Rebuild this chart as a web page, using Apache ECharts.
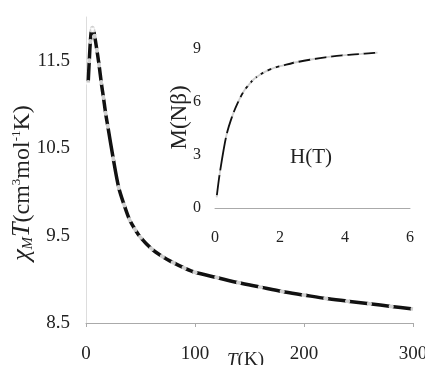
<!DOCTYPE html>
<html>
<head>
<meta charset="utf-8">
<script src="https://cdn.jsdelivr.net/npm/echarts@6/dist/echarts.min.js"></script>
<style>
  html, body { margin: 0; padding: 0; background: #fff; }
  #container { width: 425px; height: 365px; }
</style>
</head>
<body>
<div id="container"></div>
<script>
// chi_M T vs T (main plot)
var tempK = [2, 3, 4, 5, 6, 7, 8, 10, 12, 14, 16, 18, 20, 25, 30, 35, 40, 45, 50, 60, 70, 80, 90, 100,
             120, 140, 160, 180, 200, 220, 240, 260, 280, 300];
var chiT = [11.25, 11.5, 11.72, 11.85, 11.88, 11.85, 11.78, 11.62, 11.45, 11.25, 11.08, 10.9, 10.75, 10.38,
            10.05, 9.85, 9.68, 9.57, 9.48, 9.35, 9.26, 9.19, 9.13, 9.08, 9.02, 8.96, 8.91, 8.86, 8.82, 8.78,
            8.75, 8.72, 8.69, 8.66];

// M vs H (inset)
var fieldT = [0.05, 0.15, 0.35, 0.55, 0.75, 0.9, 1.05, 1.2, 1.35, 1.55, 1.8, 2.05, 2.5, 3.0, 3.5, 4.0, 4.5, 5.0];
var magM = [0.6, 2.0, 4.1, 5.3, 6.15, 6.65, 7.0, 7.3, 7.5, 7.72, 7.92, 8.05, 8.25, 8.42, 8.55, 8.65, 8.72, 8.8];

var mainTicks = [8.5, 9.5, 10.5, 11.5];

function pairs(xs, ys){
    let out = [];
    for (let i = 0; i < xs.length; i++){
        out.push([xs[i], ys[i]]);
    }
    return out;
}

var serif = 'Liberation Serif';
var txt = '#222';

function init(){
    let myChart = echarts.init(document.getElementById("container"));
    let option = {
        backgroundColor: '#fff',
        animation: false,
        grid: [
            {left: 86, top: 17, width: 327, height: 306, outerBoundsMode: 'none', containLabel: false},
            {left: 215, top: 49, width: 195, height: 159, outerBoundsMode: 'none', containLabel: false}
        ],
        xAxis: [{
            gridIndex: 0, type: 'value', min: 0, max: 300, interval: 100,
            splitLine: {show: false},
            axisLine: {lineStyle: {color: '#aaa', width: 1}},
            axisTick: {show: true, length: 4, lineStyle: {color: '#aaa'}},
            axisLabel: {fontFamily: serif, fontSize: 19, color: txt, margin: 22},
            name: '{i|T}(K)',
            nameLocation: 'middle',
            nameGap: 28,
            nameMoveOverlap: false,
            nameTextStyle: {
                fontFamily: serif, fontSize: 19, color: txt, padding: [0, 8, 0, 0],
                rich: {i: {fontFamily: serif, fontSize: 19, fontStyle: 'italic', color: txt}}
            }
        }, {
            gridIndex: 1, type: 'value', min: 0, max: 6, interval: 2,
            splitLine: {show: false},
            axisLine: {lineStyle: {color: '#aaa', width: 1}},
            axisTick: {show: false},
            axisLabel: {fontFamily: serif, fontSize: 16, color: txt, margin: 22}
        }],
        yAxis: [{
            gridIndex: 0, type: 'value', min: 8.5, max: 12, interval: 0.5,
            splitLine: {show: false},
            axisLine: {show: true, lineStyle: {color: '#ddd', width: 1}},
            axisTick: {show: false},
            axisLabel: {
                fontFamily: serif, fontSize: 19, color: txt, margin: 16,
                formatter: function (v){
                    return mainTicks.indexOf(Math.round(v * 10) / 10) >= 0 ? v.toFixed(1) : '';
                }
            },
            name: '{i|χ}{sub|M}{i|T}{n|(cm}{sup|3}{n|mol}{sup|-1}{n|K)}',
            nameLocation: 'middle',
            nameRotate: 90,
            nameGap: 50,
            nameMoveOverlap: false,
            nameTextStyle: {
                fontFamily: serif, fontSize: 24, color: txt, padding: [0, 26, 0, 0],
                rich: {
                    i: {fontFamily: serif, fontSize: 26, fontStyle: 'italic', color: txt},
                    n: {fontFamily: serif, fontSize: 24, color: txt},
                    sub: {fontFamily: serif, fontSize: 15, fontStyle: 'italic', color: txt, padding: [12, 0, 0, 0]},
                    sup: {fontFamily: serif, fontSize: 13, color: txt, padding: [0, 0, 11, 0]}
                }
            }
        }, {
            gridIndex: 1, type: 'value', min: 0, max: 9, interval: 3,
            splitLine: {show: false},
            axisLine: {show: false},
            axisTick: {show: false},
            axisLabel: {fontFamily: serif, fontSize: 16, color: txt, margin: 14},
            name: 'M(Nβ)',
            nameLocation: 'middle',
            nameRotate: 90,
            nameGap: 24,
            nameMoveOverlap: false,
            nameTextStyle: {fontFamily: serif, fontSize: 23, color: txt, padding: [0, 0, 0, 22]}
        }],
        graphic: [{
            type: 'text', left: 290, top: 147,
            style: {text: 'H(T)', font: '21px "Liberation Serif"', fill: txt}
        }],
        series: [{
            name: 'fit', type: 'line', xAxisIndex: 0, yAxisIndex: 0,
            data: pairs(tempK, chiT), smooth: 0.3, showSymbol: false,
            lineStyle: {color: '#111', width: 3.5}, z: 2
        }, {
            name: 'exp', type: 'scatter', xAxisIndex: 0, yAxisIndex: 0,
            data: pairs(tempK, chiT), symbol: 'emptyCircle', symbolSize: 5,
            itemStyle: {color: 'none', borderColor: '#666', borderWidth: 1}, z: 3
        }, {
            name: 'fitM', type: 'line', xAxisIndex: 1, yAxisIndex: 1,
            data: pairs(fieldT, magM), smooth: 0.3, showSymbol: false,
            lineStyle: {color: '#111', width: 1.8}, z: 2
        }, {
            name: 'expM', type: 'scatter', xAxisIndex: 1, yAxisIndex: 1,
            data: pairs(fieldT, magM), symbol: 'emptyCircle', symbolSize: 5,
            itemStyle: {color: 'none', borderColor: '#666', borderWidth: 1}, z: 3
        }]
    };
    myChart.setOption(option, true);
}

init();
</script>
</body>
</html>
